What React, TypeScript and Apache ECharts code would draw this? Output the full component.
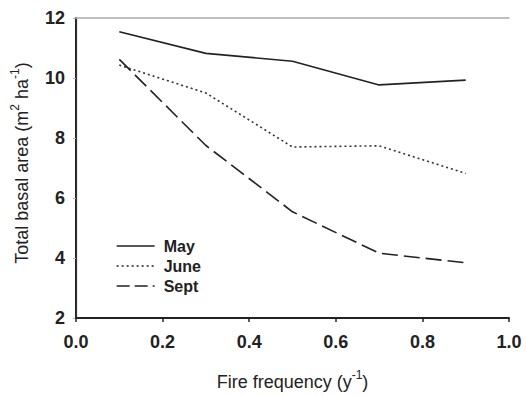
import React, { useEffect, useRef } from "react";
import * as echarts from "echarts";

const xValues = [0.1, 0.3, 0.5, 0.7, 0.9];
const seriesNames = ["May", "June", "Sept"];
const mayValues = [11.54, 10.82, 10.56, 9.77, 9.93];
const juneValues = [10.43, 9.5, 7.7, 7.74, 6.82];
const septValues = [10.62, 7.75, 5.54, 4.16, 3.84];
const xTicks = [0, 0.2, 0.4, 0.6, 0.8, 1.0];
const yTicks = [2, 4, 6, 8, 10, 12];

const FONT = "Liberation Sans";
const DASHES: any[] = ["solid", [2, 3], [13, 5]];

export default function App() {
  const ref = useRef<HTMLDivElement>(null);
  useEffect(() => {
    if (!ref.current) return;
    const chart = echarts.init(ref.current, undefined, { renderer: "svg" });
    const pair = (vals: number[]) => xValues.map((x, i) => [x, vals[i]]);
    const lineCommon = { type: "line", symbol: "none", showSymbol: false, smooth: false };
    const titleRich = {
      a: { fontSize: 18, fontFamily: FONT, color: "#222", verticalAlign: "bottom", lineHeight: 22 },
      s: { fontSize: 12, fontFamily: FONT, color: "#222", verticalAlign: "top", lineHeight: 22 },
    };
    chart.setOption({
      animation: false,
      backgroundColor: "#ffffff",
      textStyle: { fontFamily: FONT },
      grid: { left: 76, right: 17, top: 18, bottom: 73 },
      legend: {
        orient: "vertical",
        left: 111,
        top: 233,
        padding: 5,
        itemWidth: 38,
        itemHeight: 10,
        itemGap: 4,
        data: seriesNames.map((n, i) => ({
          name: n,
          itemStyle: { opacity: 0 },
          lineStyle: { type: DASHES[i], width: 1.3, color: "#222" },
        })),
        itemStyle: { opacity: 0 },
        textStyle: { fontFamily: FONT, fontSize: 16, fontWeight: "bold", color: "#222", padding: [0, 0, 0, 4] },
      },
      xAxis: [
        {
          type: "value",
          min: 0,
          max: 1,
          interval: 0.2,
          position: "bottom",
          axisLine: { lineStyle: { color: "#222", width: 2 } },
          axisTick: { show: true, inside: false, length: 4, lineStyle: { color: "#222", width: 1.5 } },
          axisLabel: {
            margin: 15,
            fontSize: 18,
            fontFamily: FONT,
            fontWeight: "bold",
            color: "#222",
            formatter: (v: number) => (xTicks.includes(Number(v.toFixed(1))) ? v.toFixed(1) : ""),
          },
          splitLine: { show: false },
          name: "{a|Fire frequency (y}{s|-1}{a|)}",
          nameLocation: "middle",
          nameGap: 51,
          nameTextStyle: { rich: titleRich },
        },
        {
          type: "value",
          min: 0,
          max: 1,
          position: "top",
          axisLine: { show: true, lineStyle: { color: "#aaa", width: 1.5 } },
          axisTick: { show: false },
          axisLabel: { show: false },
          splitLine: { show: false },
        },
      ],
      yAxis: [
        {
          type: "value",
          min: 2,
          max: 12,
          interval: 2,
          position: "left",
          axisLine: { show: true, lineStyle: { color: "#222", width: 2 } },
          axisTick: { show: true, inside: false, length: 3, lineStyle: { color: "#aaa", width: 1 } },
          axisLabel: {
            margin: 11,
            fontSize: 18,
            fontFamily: FONT,
            fontWeight: "bold",
            color: "#222",
            formatter: (v: number) => (yTicks.includes(v) ? String(v) : ""),
          },
          splitLine: { show: false },
          name: "{a|Total basal area (m}{s|2}{a| ha}{s|-1}{a|)}",
          nameLocation: "middle",
          nameGap: 45,
          nameTextStyle: { rich: titleRich, padding: [0, 0, 0, 10] },
        },
        {
          type: "value",
          min: 2,
          max: 12,
          position: "right",
          axisLine: { show: true, lineStyle: { color: "#333", width: 1.2 } },
          axisTick: { show: false },
          axisLabel: { show: false },
          splitLine: { show: false },
        },
      ],
      series: [
        { ...lineCommon, name: seriesNames[0], data: pair(mayValues), lineStyle: { color: "#222", width: 1.6, type: DASHES[0] }, itemStyle: { color: "#222" } },
        { ...lineCommon, name: seriesNames[1], data: pair(juneValues), lineStyle: { color: "#333", width: 1.6, type: DASHES[1] }, itemStyle: { color: "#333" } },
        { ...lineCommon, name: seriesNames[2], data: pair(septValues), lineStyle: { color: "#222", width: 1.6, type: [16, 6] }, itemStyle: { color: "#222" } },
      ],
    });
    return () => chart.dispose();
  }, []);
  return <div ref={ref} style={{ width: 526, height: 396, position: "absolute", left: 0, top: 0 }} />;
}
